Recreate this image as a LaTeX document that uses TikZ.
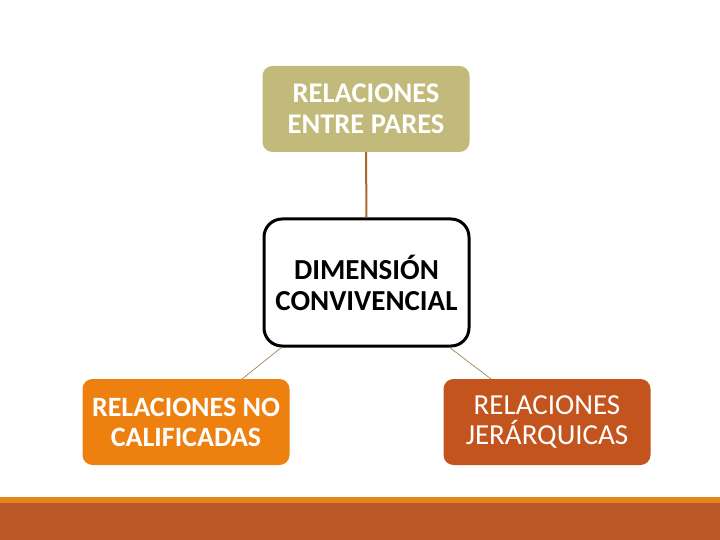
\documentclass[tikz,border=0pt]{standalone}
\usepackage{fontspec}
\setmainfont{Carlito}
\usetikzlibrary{shadows}
\definecolor{olivebox}{RGB}{194,186,122}
\definecolor{orangebox}{RGB}{238,128,16}
\definecolor{rustbox}{RGB}{196,84,30}
\definecolor{toplink}{RGB}{170,105,40}
\definecolor{thinlink}{RGB}{150,120,70}
\definecolor{stripe}{RGB}{224,134,28}
\definecolor{band}{RGB}{186,88,42}
\tikzset{
  box/.style={rounded corners=10pt, minimum width=207pt, minimum height=86pt,
    align=center, text=white},
  centerbox/.style={rounded corners=18pt, draw=black, line width=3pt, fill=white,
    minimum width=205pt, minimum height=127pt, align=center,
    font=\bfseries\fontsize{29}{31}\selectfont, text=black},
}
\begin{document}
\begin{tikzpicture}[x=1pt,y=-1pt]
\useasboundingbox (0,0) rectangle (720,540);
\fill[white] (0,0) rectangle (720,540);
% bottom bands
\fill[stripe] (0,497) rectangle (720,503);
\fill[band] (0,503) rectangle (720,540);
% nodes
\node[box, fill=olivebox, font=\bfseries\fontsize{28.5}{31}\selectfont] (top) at (366,109) {RELACIONES\\ENTRE PARES};
\node[centerbox] (center) at (366.5,282.5) {DIMENSIÓN\\CONVIVENCIAL};
\node[box, fill=orangebox, font=\bfseries\fontsize{28}{30}\selectfont] (left) at (186,422) {RELACIONES NO\\CALIFICADAS};
\node[box, fill=rustbox, font=\fontsize{29}{30}\selectfont] (right) at (547,422) {RELACIONES\\JERÁRQUICAS};
% connectors
\draw[toplink, line width=2pt] (top.south) -- (center.north);
\coordinate (cl) at (282,347);
\coordinate (cr) at (449,347);
\coordinate (ll) at (242,379);
\coordinate (rr) at (491,379);
\draw[thinlink, line width=0.6pt] (cl) -- (ll);
\draw[thinlink, line width=0.6pt] (cr) -- (rr);
\end{tikzpicture}
\end{document}
